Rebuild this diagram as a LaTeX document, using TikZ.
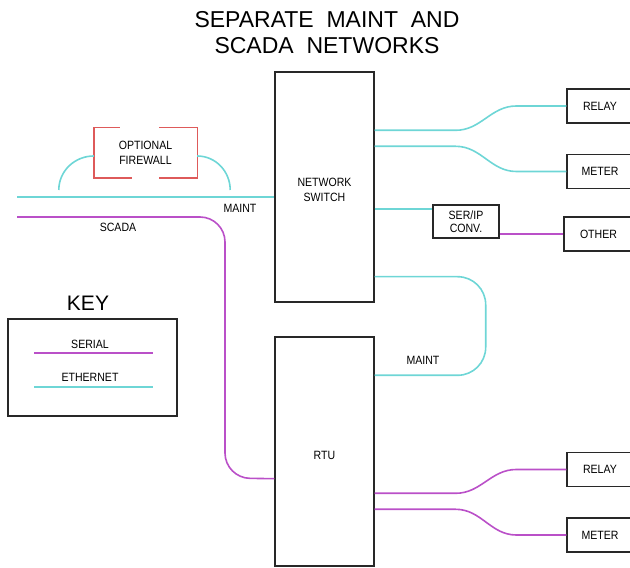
\documentclass[tikz,border=0pt]{standalone}
\usepackage{fontspec}
\setmainfont{Liberation Sans}[FakeStretch=0.88]
\newfontfamily\titlefont{Liberation Sans}
\usetikzlibrary{calc}
\definecolor{ethc}{RGB}{110,214,214}
\definecolor{serc}{RGB}{186,80,200}
\definecolor{fwc}{RGB}{222,90,90}
\definecolor{boxc}{RGB}{40,40,40}
\begin{document}
\begin{tikzpicture}[x=1pt,y=1pt,
  box/.style={draw=boxc,line width=1.4pt,inner sep=0pt,align=center,font=\fontsize{12}{14}\selectfont},
  lbl/.style={inner sep=0pt,align=center,font=\fontsize{12}{15}\selectfont},
  eth/.style={draw=ethc,line width=1.6pt},
  ser/.style={draw=serc,line width=1.6pt}]
\useasboundingbox (0,0) rectangle (630,568);
% title
\node[inner sep=0pt,align=center,font=\titlefont\fontsize{23}{26}\selectfont] (title) at (327,535) {SEPARATE\ \ MAINT\ \ AND\\SCADA\ \ NETWORKS};
% main boxes
\node[box,minimum width=99,minimum height=230] (sw) at (324.5,381) {};
\node[lbl] (swt) at (324.5,378) {NETWORK\\SWITCH};
\node[box,minimum width=99,minimum height=229] (rtu) at (324.5,116.5) {};
\node[lbl] (rtut) at (324.5,113) {RTU};
\node[box,minimum width=66,minimum height=34] (relay1) at (600,462) {RELAY};
\node[box,minimum width=66,minimum height=34] (meter1) at (600,396.5) {METER};
\node[box,minimum width=69,minimum height=34] (other) at (598.5,334) {OTHER};
\node[box,minimum width=66,minimum height=33,font=\fontsize{12}{13}\selectfont] (serip) at (466,346.5) {SER/IP\\CONV.};
\node[box,minimum width=66,minimum height=34] (relay2) at (600,98.5) {RELAY};
\node[box,minimum width=66,minimum height=34] (meter2) at (600,33) {METER};
% firewall
\node[lbl,minimum width=103,minimum height=50] (fw) at (145.5,415) {OPTIONAL\\FIREWALL};
\draw[fwc,line width=1.4pt] ($(fw.north west)+(26,0)$) -- (fw.north west) -- (fw.south west) -- ++(38,0);
\draw[fwc,line width=1.4pt] ($(fw.north east)+(-38,0)$) -- (fw.north east) -- (fw.south east) -- ++(-38,0);
\draw[eth] ($(fw.west)+(0,-3)$) to[out=180,in=90] ++(-35,-34);
\draw[eth] ($(fw.east)+(0,-3)$) to[out=0,in=90] ++(33,-34);
% left lines
\coordinate (mstart) at (17,371);
\coordinate (sstart) at (17,351);
\coordinate (sbend) at (225,90);
\draw[eth] (mstart) -- (mstart -| sw.west);
\draw[ser,rounded corners=25] (sstart) -| (sbend) -- ($(rtu.south west)+(0,88)$);
\node[lbl] (mlbl) at (240,360) {MAINT};
\node[lbl] (slbl) at (118,341) {SCADA};
% switch outputs
\draw[eth] ($(sw.north east)+(0,-59)$) -- ++(81,0) to[out=0,in=180] ($(relay1.west)+(-50,0)$) -- (relay1.west);
\draw[eth] ($(sw.north east)+(0,-75)$) -- ++(81,0) to[out=0,in=180] ($(meter1.west)+(-50,0)$) -- (meter1.west);
\coordinate (sipin) at ($(serip.north west)+(0,-5)$);
\draw[eth] (sw.east |- sipin) -- (sipin);
\draw[ser] (other.west) -- (other.west -| serip.east);
\draw[eth,rounded corners=28] ($(sw.south east)+(0,26)$) -- ++(111,0) |- ($(rtu.north east)+(0,-39)$);
\node[lbl] (m2lbl) at (423,208) {MAINT};
% rtu outputs
\draw[ser] ($(rtu.north east)+(0,-157)$) -- ++(81,0) to[out=0,in=180] ($(relay2.west)+(-50,0)$) -- (relay2.west);
\draw[ser] ($(rtu.north east)+(0,-173)$) -- ++(81,0) to[out=0,in=180] ($(meter2.west)+(-50,0)$) -- (meter2.west);
% key
\node[inner sep=0pt,font=\titlefont\fontsize{21}{24}\selectfont] (keyt) at (88,265) {KEY};
\node[draw=boxc,line width=1.4pt,minimum width=169,minimum height=97,inner sep=0pt] (key) at (92.5,200.5) {};
\node[lbl] (kser) at (90,224) {SERIAL};
\node[lbl] (keth) at (90,191) {ETHERNET};
\draw[ser] ($(key.west)+(27,14.5)$) -- ($(key.east)+(-25,14.5)$);
\draw[eth] ($(key.west)+(27,-19.5)$) -- ($(key.east)+(-25,-19.5)$);
\end{tikzpicture}
\end{document}
